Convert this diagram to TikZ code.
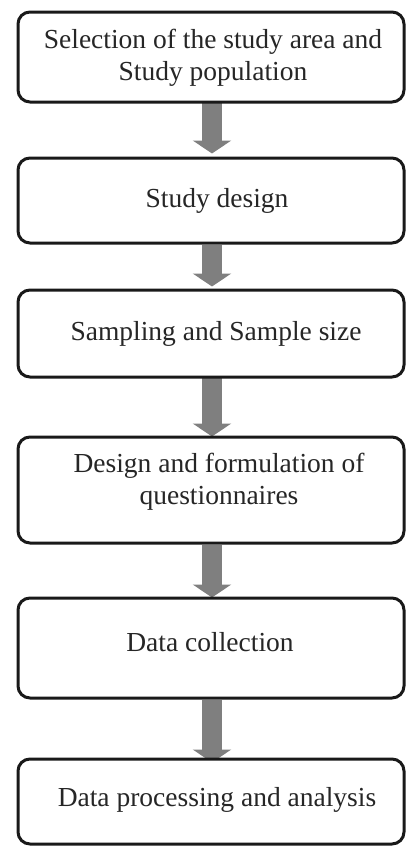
\documentclass[tikz,border=0pt]{standalone}
\usepackage{fontspec}
\setmainfont{Liberation Serif}
\usetikzlibrary{arrows.meta,backgrounds}
\definecolor{arrgray}{HTML}{7F7F7F}
\definecolor{txtcol}{HTML}{262626}
\begin{document}
\begin{tikzpicture}[x=1pt,y=-1pt,
  box/.style={draw=black!90,line width=3pt,rounded corners=12pt,fill=white,minimum width=386pt,inner sep=0pt},
  txt/.style={text=txtcol,font=\fontsize{27.5}{32}\selectfont,align=center,inner sep=0pt},
  flow/.style={arrgray,line width=20pt,-{Triangle[width=38pt,length=13pt]}}]
\useasboundingbox (0,0) rectangle (406,846);
\node[box,minimum height=90pt]  (b1) at (211,57) {};
\node[box,minimum height=85pt]  (b2) at (211,200.5) {};
\node[box,minimum height=87pt]  (b3) at (211,333.5) {};
\node[box,minimum height=106pt] (b4) at (211,490) {};
\node[box,minimum height=100pt] (b5) at (211,648) {};
\node[box,minimum height=85pt]  (b6) at (211,801.5) {};
\node[txt] (t1) at (213,58) {Selection of the study area and\\Study population};
\node[txt] (t2) at (217,201) {Study design};
\node[txt] (t3) at (216,334) {Sampling and Sample size};
\node[txt] (t4) at (219,482) {Design and formulation of\\questionnaires};
\node[txt] (t5) at (210,642) {Data collection};
\node[txt] (t6) at (217,800) {Data processing and analysis};
\begin{scope}[on background layer]
\draw[flow] ([xshift=1pt,yshift=4pt]b1.south) -- ([xshift=1pt,yshift=3pt]b2.north);
\draw[flow] ([xshift=1pt]b2.south) -- ([xshift=1pt,yshift=2pt]b3.north);
\draw[flow] ([xshift=1pt,yshift=5pt]b3.south) -- ([xshift=1pt,yshift=-1pt]b4.north);
\draw[flow] ([xshift=1pt]b4.south) -- ([xshift=1pt,yshift=-1pt]b5.north);
\draw[flow] ([xshift=1pt]b5.south) -- ([xshift=1pt,yshift=-5pt]b6.north);
\end{scope}
\end{tikzpicture}
\end{document}
